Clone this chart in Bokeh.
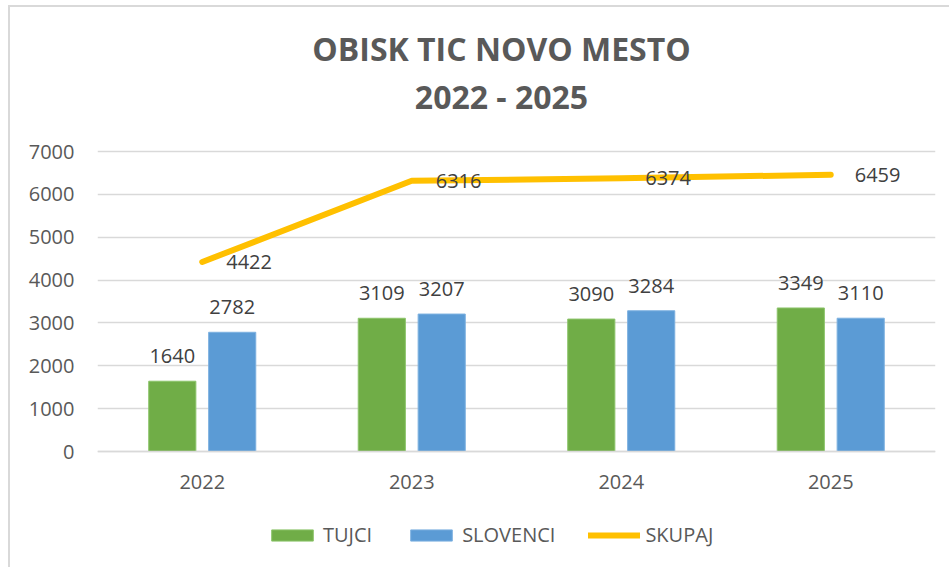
from bokeh.plotting import figure
from bokeh.models import (FactorRange, Range1d, ColumnDataSource, LabelSet, Label, Span,
                          Legend, LegendItem, FixedTicker)
from bokeh.core.properties import value
from bokeh.transform import dodge
from bokeh.embed import file_html
from bokeh.resources import INLINE

years = ["2022", "2023", "2024", "2025"]
tujci = [1640, 3109, 3090, 3349]
slovenci = [2782, 3207, 3284, 3110]
skupaj = [4422, 6316, 6374, 6459]
y_ticks = [0, 1000, 2000, 3000, 4000, 5000, 6000, 7000]
title_1 = "OBISK TIC NOVO MESTO"
title_2 = "2022 - 2025"

GREEN = "#70AD47"
BLUE = "#5B9BD5"
GOLD = "#FFC000"
TXT = "#595959"
GRID = "#D9D9D9"
FONT = "Open Sans"

# layout (page pixels): canvas starts at (10, 7) because of the CSS border/margin
CANVAS_W, CANVAS_H = 941, 562
Y0_PX, YTOP_PX = 444, 144          # canvas y of value 0 and of value 7000
PX_PER_UNIT = (Y0_PX - YTOP_PX) / 7000.0
y_start = -(CANVAS_H - Y0_PX) / PX_PER_UNIT
y_end = Y0_PX / PX_PER_UNIT

src = ColumnDataSource(data=dict(
    year=years, tujci=tujci, slovenci=slovenci, skupaj=skupaj,
    zero=[0] * len(years),
    tujci_t=[str(v) for v in tujci],
    slovenci_t=[str(v) for v in slovenci],
    skupaj_t=[str(v) for v in skupaj],
))

p = figure(width=CANVAS_W, height=CANVAS_H, x_range=FactorRange(*years),
           y_range=Range1d(y_start, y_end), x_axis_location=None,
           toolbar_location=None, output_backend="svg",
           min_border_left=87, min_border_right=16, min_border_top=0, min_border_bottom=0,
           styles={"margin-left": "8px", "margin-top": "5px",
                   "border-left": "2px solid #D9D9D9", "border-top": "2px solid #D9D9D9"})
p.title = None
p.outline_line_color = None
p.background_fill_color = "white"
p.border_fill_color = "white"

off = 0.143
bw = 0.225
r1 = p.vbar(x=dodge("year", -off, range=p.x_range), top="tujci", width=bw, source=src,
            fill_color=GREEN, line_color="#8CC46A", line_width=1)
r2 = p.vbar(x=dodge("year", off, range=p.x_range), top="slovenci", width=bw, source=src,
            fill_color=BLUE, line_color="#7DB1E0", line_width=1)
r3 = p.line(x="year", y="skupaj", source=src, line_color=GOLD, line_width=6,
            line_cap="round", line_join="round")

lab_kw = dict(text_font=value(FONT), text_font_size=value("20px"), text_color="#404040", source=src)
p.add_layout(LabelSet(x=dodge("year", -off, range=p.x_range), y="tujci", text="tujci_t",
                      y_offset=18, text_align="center", text_baseline="alphabetic", **lab_kw))
p.add_layout(LabelSet(x=dodge("year", off, range=p.x_range), y="slovenci", text="slovenci_t",
                      y_offset=18, text_align="center", text_baseline="alphabetic", **lab_kw))
p.add_layout(LabelSet(x="year", y="skupaj", text="skupaj_t", x_offset=24,
                      text_align="left", text_baseline="middle", **lab_kw))

# category axis (line at 0 + labels)
p.add_layout(Span(location=0, dimension="width", line_color=GRID, line_width=1.5))
p.add_layout(LabelSet(x="year", y="zero", text="year", y_offset=-30, text_align="center",
                      text_baseline="middle", text_font=value(FONT), text_font_size=value("20px"),
                      text_color=TXT, source=src))

# y axis + grid
p.xgrid.grid_line_color = None
p.ygrid.grid_line_color = GRID
p.ygrid.grid_line_width = 1.5
p.yaxis.ticker = FixedTicker(ticks=y_ticks)
p.ygrid.ticker = FixedTicker(ticks=y_ticks)
p.yaxis.axis_line_color = None
p.yaxis.major_tick_line_color = None
p.yaxis.minor_tick_line_color = None
p.yaxis.major_label_standoff = 17
p.yaxis.major_label_text_font = FONT
p.yaxis.major_label_text_font_size = "20px"
p.yaxis.major_label_text_color = TXT

# titles
TITLE_X = (501 - 97) / 209.5
for txt, py in ((title_1, 48), (title_2, 96)):
    p.add_layout(Label(x=TITLE_X, y=(Y0_PX - (py - 7)) / PX_PER_UNIT, text=txt,
                       text_align="center", text_baseline="middle", text_font=FONT,
                       text_font_size="32px", text_font_style="bold", text_color=TXT))

legend = Legend(items=[LegendItem(label="TUJCI", renderers=[r1]),
                       LegendItem(label="SLOVENCI", renderers=[r2]),
                       LegendItem(label="SKUPAJ", renderers=[r3])],
                orientation="horizontal", location=(169, 21),
                glyph_width=52, glyph_height=14, label_standoff=5, spacing=33,
                padding=0, margin=0, border_line_color=None, background_fill_alpha=0,
                label_text_font=FONT, label_text_font_size="20px", label_text_color=TXT)
p.add_layout(legend, "center")

open("out.html", "w").write(file_html(p, INLINE))
